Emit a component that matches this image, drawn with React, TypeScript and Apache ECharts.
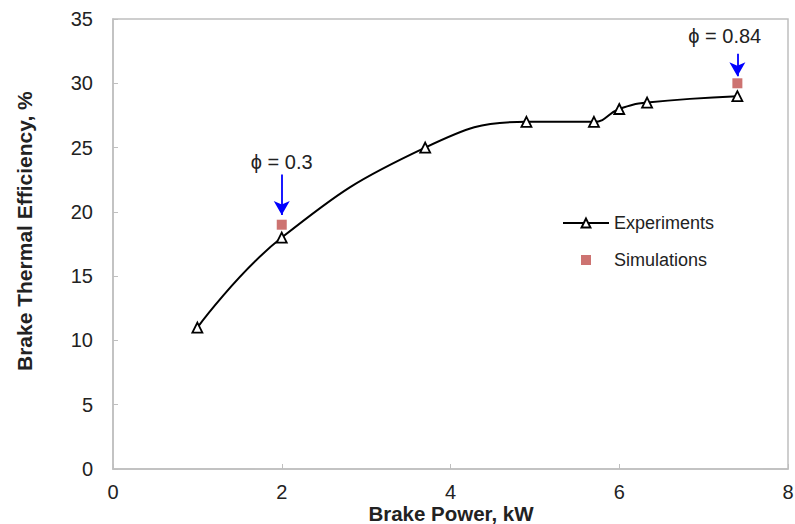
import React, { useEffect, useRef } from "react";
import * as echarts from "echarts";

const expX = [1, 2, 3.7, 4.9, 5.7, 6, 6.33, 7.4];
const expY = [11, 18, 25, 27, 27, 28, 28.5, 29];
const simX = [2, 7.4];
const simY = [19, 30];
const xTicks = [0, 2, 4, 6, 8];
const yTicks = [0, 5, 10, 15, 20, 25, 30, 35];
const phiLabels = ["ϕ = 0.3", "ϕ = 0.84"];
const phiLabelPos = [[2, 23.85], [7.25, 33.7]];
const arrowStartY = [22.9, 32.3];
const arrowEndY = [19.75, 30.55];

export default function App() {
  const ref = useRef<HTMLDivElement>(null);
  useEffect(() => {
    if (!ref.current) return;
    document.body.style.margin = "0";
    document.body.style.overflow = "hidden";
    document.documentElement.style.overflow = "hidden";
    const chart = echarts.init(ref.current, undefined, { renderer: "svg" });
    const font = "Liberation Sans, Arial, sans-serif";
    const gray = "#bfbfbf";
    chart.setOption({
      animation: false,
      backgroundColor: "#fff",
      textStyle: { fontFamily: font },
      grid: {
        left: 113,
        right: 7,
        top: 19,
        bottom: 55,
        containLabel: false,
        outerBoundsMode: "none",
        show: true,
        borderColor: gray,
        borderWidth: 1.5,
      },
      xAxis: {
        type: "value",
        min: xTicks[0],
        max: xTicks[xTicks.length - 1],
        interval: 2,
        axisLine: { show: true, lineStyle: { color: gray, width: 1.5 } },
        axisTick: { show: true, inside: true, length: 5, lineStyle: { color: gray } },
        axisLabel: { fontSize: 20, lineHeight: 18, color: "#222", margin: 14, fontFamily: font },
        splitLine: { show: false },
      },
      yAxis: {
        type: "value",
        min: yTicks[0],
        max: yTicks[yTicks.length - 1],
        interval: 5,
        axisLine: { show: true, lineStyle: { color: gray, width: 1.5 } },
        axisTick: { show: true, inside: true, length: 5, lineStyle: { color: gray } },
        axisLabel: { fontSize: 20, color: "#222", margin: 20, fontFamily: font },
        splitLine: { show: false },
      },
      legend: {
        orient: "vertical",
        left: 557,
        top: 209,
        itemGap: 19,
        itemWidth: 46,
        itemHeight: 11,
        textStyle: { fontSize: 18, color: "#222", fontFamily: font },
        data: [
          { name: "Experiments" },
          {
            name: "Simulations",
            icon: "path://M0,0L0.01,0L0.01,0.01L0,0.01Z M18,0.5L28,0.5L28,10.5L18,10.5Z M45.99,10.99L46,10.99L46,11L45.99,11Z",
          },
        ],
      },
      graphic: [
        {
          type: "text",
          x: 24,
          y: 371,
          rotation: Math.PI / 2,
          style: {
            text: "Brake Thermal Efficiency, %",
            font: "bold 21px " + font,
            fill: "#222",
            align: "left",
            verticalAlign: "middle",
          },
        },
        {
          type: "text",
          x: 451,
          y: 513,
          style: {
            text: "Brake Power, kW",
            font: "bold 20.5px " + font,
            lineHeight: 20,
            fill: "#222",
            align: "center",
            verticalAlign: "middle",
          },
        },
      ],
      series: [
        {
          name: "Experiments",
          type: "line",
          data: expX.map((x, i) => [x, expY[i]]),
          smooth: 0.45,
          symbol: "triangle",
          symbolSize: 10,
          showAllSymbol: true,
          lineStyle: { color: "#000", width: 2 },
          itemStyle: { color: "#fff", borderColor: "#000", borderWidth: 1.8 },
          z: 2,
        },
        {
          name: "Simulations",
          type: "scatter",
          data: simX.map((x, i) => [x, simY[i]]),
          symbol: "rect",
          symbolSize: 10,
          itemStyle: { color: "#c0504d" },
          z: 3,
          markLine: {
            silent: true,
            symbol: ["none", "arrow"],
            symbolSize: [12, 14],
            lineStyle: { color: "#0000ff", width: 1.8, type: "solid" },
            label: { show: false },
            data: simX.map((x, i) => [
              { coord: [x, arrowStartY[i]] },
              { coord: [x, arrowEndY[i]] },
            ]),
          },
          markPoint: {
            silent: true,
            symbol: "circle",
            symbolSize: 0,
            label: {
              show: true,
              fontSize: 20,
              color: "#222",
              fontFamily: font,
              formatter: (p: any) => p.name,
            },
            data: phiLabels.map((n, i) => ({ name: n, coord: phiLabelPos[i] })),
          },
        },
      ],
    });
    return () => chart.dispose();
  }, []);
  return <div ref={ref} style={{ width: 795, height: 524 }} />;
}
